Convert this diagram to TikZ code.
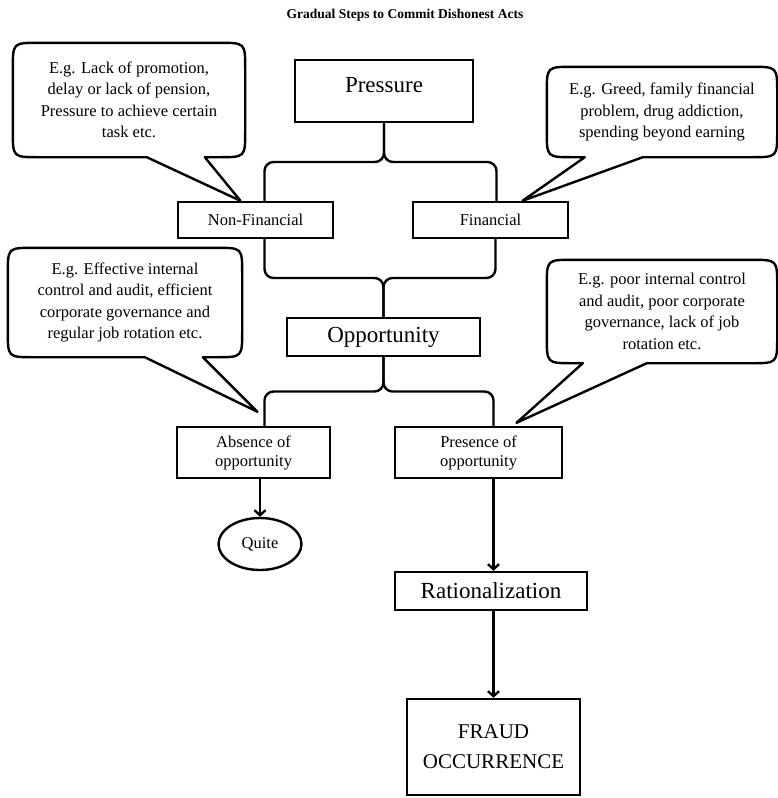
\documentclass[tikz,border=0pt]{standalone}
\usepackage{fontspec}
\setmainfont{Liberation Serif}
\usetikzlibrary{positioning, arrows.meta, calc, shapes.geometric}

\tikzset{
  stepbox/.style={draw, rectangle, line width=2.4pt, align=center, inner sep=0pt, font=\fontsize{16.5}{19}\selectfont},
  mainbox/.style={stepbox, font=\fontsize{23}{28}\selectfont},
  example/.style={align=center, inner sep=0pt, font=\fontsize{16.5}{21.5}\selectfont},
  bubbleline/.style={line width=2.4pt, line join=round},
  forkline/.style={line width=2.4pt, rounded corners=9pt},
  flow/.style={line width=2.4pt, -{Straight Barb[length=5pt, width=11pt]}},
}

% speech bubble round an example node: #1 node, #2 #3 foot of the pointer, #4 tip
\newcommand{\callbubble}[4]{%
  \draw[bubbleline] ($(#1.south west)+(#2,0)$) -- (#4) -- ($(#1.south west)+(#3,0)$)
    -- ($(#1.south east)+(-26,0)$) .. controls (#1.south east) .. ($(#1.south east)+(0,-26)$)
    -- ($(#1.north east)+(0,26)$) .. controls (#1.north east) .. ($(#1.north east)+(-26,0)$)
    -- ($(#1.north west)+(26,0)$) .. controls (#1.north west) .. ($(#1.north west)+(0,26)$)
    -- ($(#1.south west)+(0,-26)$) .. controls (#1.south west) .. ($(#1.south west)+(26,0)$)
    -- cycle;}

% brace between one step and the two that follow it: #1 tip, #2 #3 ends of the arms
\newcommand{\forkto}[3]{%
  \coordinate (forkmid) at ($(#1)!0.5!(#2)$);
  \draw[forkline] (#2) -- (#2 |- forkmid) -- (#1 |- forkmid) -- (#1);
  \draw[forkline] (#3) -- (#3 |- forkmid) -- (#1 |- forkmid) -- (#1);}

\begin{document}
\begin{tikzpicture}[x=1pt, y=-1pt]
    \useasboundingbox (0,0) rectangle (778,798);

    \node[font=\fontsize{13.5}{16}\selectfont\bfseries] (title) at (405,15) {Gradual Steps to Commit Dishonest Acts};

    % --- Begin Pressure ---
    \node[mainbox, minimum width=178pt, text height=32pt, text depth=30pt] (Pressure) at (384,91) {Pressure};
    \node[stepbox, minimum width=155pt, minimum height=36pt] (NonFinancial) at (255.5,220) {Non-Financial};
    \node[stepbox, minimum width=155pt, minimum height=36pt] (Financial) at (490.5,220) {Financial};

    \node[example, minimum width=232pt, minimum height=114pt] (nonFinancialEg) at (129,100) {
        E.g. Lack of promotion,\\delay or lack of pension,\\Pressure to achieve certain\\task etc.};
    \node[example, minimum width=230pt, minimum height=90pt] (financialEg) at (662,112) {
        E.g. Greed, family financial\\problem, drug addiction,\\spending beyond earning};
    % --- End Pressure ---

    % --- Begin Opportunity ---
    \node[mainbox, minimum width=193pt, minimum height=38pt] (Opportunity) at (383.5,337) {Opportunity};
    \node[stepbox, minimum width=153pt, minimum height=51pt] (Absence) at (253.5,452.5) {Absence of\\opportunity};
    \node[stepbox, minimum width=167pt, minimum height=51pt] (Presence) at (478.5,452.5) {Presence of\\opportunity};
    \node[draw, ellipse, line width=2.4pt, minimum width=83pt, minimum height=52pt, inner sep=0pt,
          font=\fontsize{16.5}{19}\selectfont] (Quite) at (260,544) {Quite};

    \node[example, minimum width=234pt, minimum height=109pt] (absenceEg) at (125,302.5) {
        E.g. Effective internal\\control and audit, efficient\\corporate governance and\\regular job rotation etc.};
    \node[example, minimum width=230pt, minimum height=103pt] (presenceEg) at (662,311.5) {
        E.g. poor internal control\\and audit, poor corporate\\governance, lack of job\\rotation etc.};
    % --- End Opportunity ---

    % --- Begin Rationalization ---
    \node[mainbox, minimum width=192pt, minimum height=38pt] (Rationalization) at (491,591) {Rationalization};
    \node[stepbox, font=\fontsize{21}{30}\selectfont, minimum width=173pt, minimum height=96pt] (Fraud) at (493.5,747) {FRAUD\\OCCURRENCE};
    % --- End Rationalization ---

    % Pointers of the bubbles.
    \coordinate (nonFinancialTip) at ($(NonFinancial.north)+(-15,0)$);
    \coordinate (financialTip) at ($(Financial.north)+(32,0)$);
    \coordinate (absenceTip) at ($(Absence.north)+(4,-14)$);
    \coordinate (presenceTip) at ($(Presence.north)+(38,-3)$);

    \callbubble{nonFinancialEg}{134}{192}{nonFinancialTip}
    \callbubble{financialEg}{38}{96}{financialTip}
    \callbubble{absenceEg}{137}{195}{absenceTip}
    \callbubble{presenceEg}{36}{100}{presenceTip}

    % Braces between the steps.
    \coordinate (nonFinancialTop) at ($(NonFinancial.north)+(9,0)$);
    \coordinate (financialTop) at ($(Financial.north)+(6,0)$);
    \coordinate (nonFinancialFoot) at ($(NonFinancial.south)+(9,0)$);
    \coordinate (financialFoot) at ($(Financial.south)+(5,0)$);
    \coordinate (absenceTop) at ($(Absence.north)+(11,0)$);
    \coordinate (presenceTop) at ($(Presence.north)+(15,0)$);

    \forkto{Pressure.south}{nonFinancialTop}{financialTop}
    \forkto{Opportunity.north}{nonFinancialFoot}{financialFoot}
    \forkto{Opportunity.south}{absenceTop}{presenceTop}

    % Connect the nodes.
    \draw[flow] (Absence.south -| Quite.north) -- (Quite.north);
    \draw[flow] (Presence.south -| Fraud.north) -- (Rationalization.north -| Fraud.north);
    \draw[flow] (Rationalization.south -| Fraud.north) -- (Fraud.north);

\end{tikzpicture}
\end{document}
